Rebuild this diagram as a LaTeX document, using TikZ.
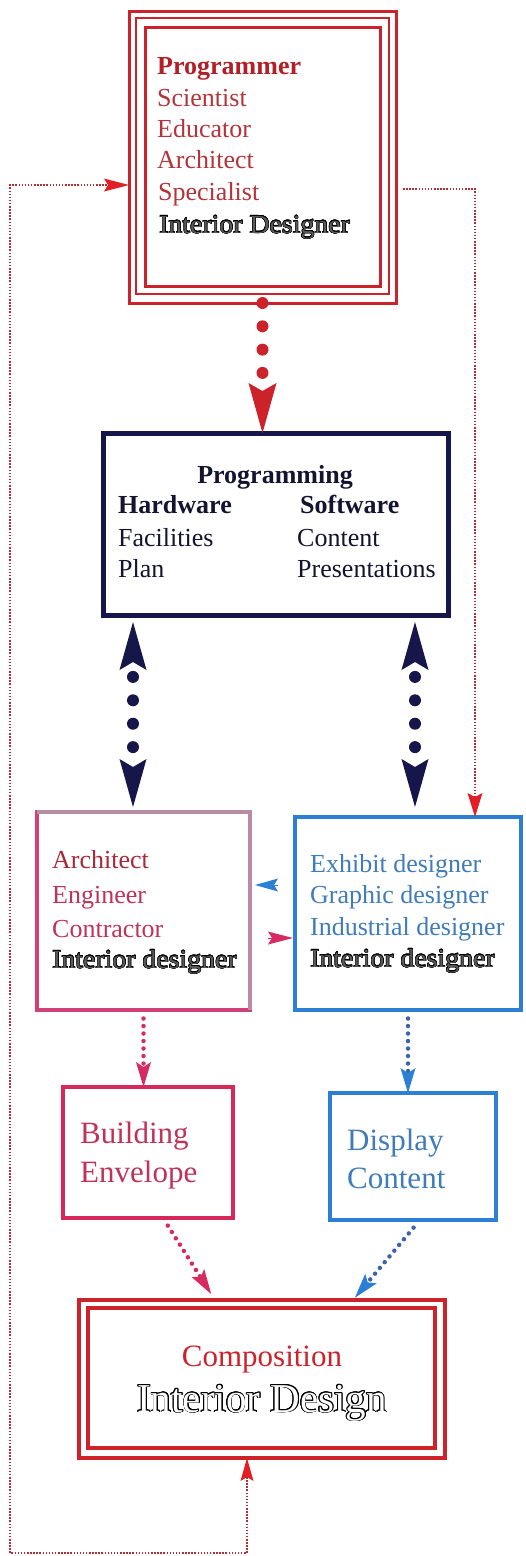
\documentclass[tikz,border=0pt]{standalone}
\usepackage{fontspec}
\setmainfont{Liberation Serif}
\newfontfamily\wideserif[FakeStretch=1.07]{Liberation Serif}
\usepackage{contour}
\usetikzlibrary{arrows.meta,calc}

\definecolor{boxred}{HTML}{CC2229}
\definecolor{progred}{HTML}{B21F26}
\definecolor{txtred}{HTML}{B4343A}
\definecolor{navy}{HTML}{16164A}
\definecolor{navytxt}{HTML}{141430}
\definecolor{pinkbox}{HTML}{D2407A}
\definecolor{mauve}{HTML}{B98CA6}
\definecolor{archred}{HTML}{A8283A}
\definecolor{pinktxt}{HTML}{BF3358}
\definecolor{crimson}{HTML}{D6285A}
\definecolor{pinkarrow}{HTML}{D82A62}
\definecolor{boxblue}{HTML}{2B7FD4}
\definecolor{bluetxt}{HTML}{3F7CB8}
\definecolor{bluedots}{HTML}{3D63A8}
\definecolor{fbred}{HTML}{B0303A}
\definecolor{tipred}{HTML}{E21F24}
\definecolor{engrave}{HTML}{5A5A5A}

\newcommand{\engraved}[1]{{\wideserif\contourlength{0.45pt}\color{engrave}\contour{black}{#1}}}
\newcommand{\hollow}[1]{{\contourlength{0.85pt}\color{white}\contour{black}{#1}}}

\tikzset{
  frame/.style={rectangle, inner sep=0pt, outer sep=0pt},
  line/.style={anchor=base west, inner sep=0pt, font=\fontsize{26}{31}\selectfont},
  cline/.style={anchor=base, inner sep=0pt},
  bigdots/.style={line width=12pt, line cap=round, dash pattern=on 0pt off 23.4pt},
  smalldots/.style={line width=4.5pt, line cap=round, dash pattern=on 0pt off 7.5pt},
  feedback/.style={fbred, line width=1.6pt, dash pattern=on 1.5pt off 1.6pt},
  navytip/.tip={Stealth[length=48pt, width=27pt, inset=8pt, line width=0pt]},
}

\begin{document}
\begin{tikzpicture}[x=1pt, y=-1pt]
  \fill[white] (0,0) rectangle (526,1556);
  \useasboundingbox (0,0) rectangle (526,1556);

  % ---- Programmer: triple-ruled frame ----
  \node[frame, draw=boxred, line width=3pt, minimum width=267pt, minimum height=292pt] (top) at (262.5,157) {};
  \draw[boxred, line width=1.8pt] ([shift={(7,7)}]top.north west) rectangle ([shift={(-7,-9)}]top.south east);
  \draw[boxred, line width=3pt] ([shift={(16,16)}]top.north west) rectangle ([shift={(-16,-17)}]top.south east);
  \node[line, text=progred, font=\fontsize{26}{31}\selectfont\bfseries] (t1) at (157,74) {Programmer};
  \node[line, text=txtred] (t2) at (157,106) {Scientist};
  \node[line, text=txtred] (t3) at (157,137) {Educator};
  \node[line, text=txtred] (t4) at (157,168) {Architect};
  \node[line, text=txtred] (t5) at (158,200) {Specialist};
  \node[line] (t6) at (159,233) {\engraved{Interior Designer}};

  % ---- Programming ----
  \node[frame, draw=navy, line width=5pt, minimum width=345pt, minimum height=182pt] (prog) at (275.5,524) {};
  \node[cline, text=navytxt, font=\fontsize{26}{31}\selectfont\bfseries] (p0) at (275,483) {Programming};
  \node[line, text=navytxt, font=\fontsize{26}{31}\selectfont\bfseries] (p1) at (118,513) {Hardware};
  \node[line, text=navytxt, font=\fontsize{26}{31}\selectfont\bfseries] (p2) at (300,513) {Software};
  \node[line, text=navytxt] (p3) at (118,546) {Facilities};
  \node[line, text=navytxt] (p4) at (118,577) {Plan};
  \node[line, text=navytxt] (p5) at (297,546) {Content};
  \node[line, text=navytxt] (p6) at (297,577) {Presentations};

  % ---- building team ----
  \node[frame, draw=pinkbox, line width=4pt, minimum width=213pt, minimum height=198pt] (arch) at (143.5,911) {};
  \draw[mauve, line width=4pt] (arch.north west) -- (arch.north east) -- (arch.south east);
  \node[line, text=archred] (a1) at (52,868) {Architect};
  \node[line, text=pinktxt] (a2) at (52,903) {Engineer};
  \node[line, text=pinktxt] (a3) at (52,937) {Contractor};
  \node[line] (a4) at (52,968) {\engraved{Interior designer}};

  % ---- display team ----
  \node[frame, draw=boxblue, line width=4pt, minimum width=226pt, minimum height=193pt] (design) at (408,913.5) {};
  \node[line, text=bluetxt] (d1) at (310,872) {Exhibit designer};
  \node[line, text=bluetxt] (d2) at (310,903) {Graphic designer};
  \node[line, text=bluetxt] (d3) at (310,935) {Industrial designer};
  \node[line] (d4) at (310,967) {\engraved{Interior designer}};

  % ---- outcomes ----
  \node[frame, draw=crimson, line width=4.5pt, minimum width=170pt, minimum height=131pt] (build) at (148,1152.5) {};
  \node[line, text=pinktxt, font=\fontsize{31}{37}\selectfont] (b1) at (80,1143) {Building};
  \node[line, text=pinktxt, font=\fontsize{31}{37}\selectfont] (b2) at (80,1182) {Envelope};

  \node[frame, draw=boxblue, line width=4.5pt, minimum width=166pt, minimum height=127pt] (disp) at (413,1156.5) {};
  \node[line, text=bluetxt, font=\fontsize{31}{37}\selectfont] (c1) at (347,1150) {Display};
  \node[line, text=bluetxt, font=\fontsize{31}{37}\selectfont] (c2) at (347,1188) {Content};

  % ---- Composition: double-ruled frame ----
  \node[frame, draw=boxred, line width=4pt, minimum width=366pt, minimum height=158pt] (comp) at (262,1379) {};
  \draw[boxred, line width=3.5pt] ([shift={(9,8)}]comp.north west) rectangle ([shift={(-10,-10)}]comp.south east);
  \node[cline, text=boxred, font=\fontsize{31}{37}\selectfont] (k1) at (262,1366) {Composition};
  \node[cline, font=\fontsize{41}{48}\selectfont] (k2) at (262,1412) {\hollow{Interior Design}};

  % ---- connectors ----
  \draw[boxred, bigdots, dash pattern=on 0pt off 23.3pt,
        -{Stealth[length=50pt, width=28pt, inset=8pt, line width=0pt]}]
    (top.south) -- (top.south |- prog.north);

  \coordinate (nl) at (133,0);
  \coordinate (nr) at (415,0);
  \draw[navy, bigdots, dash phase=8.5pt, shorten <=7pt, shorten >=5pt, navytip-navytip]
    (nl |- prog.south) -- (nl |- arch.north);
  \draw[navy, bigdots, dash phase=8.5pt, shorten <=7pt, shorten >=10pt, navytip-navytip]
    (nr |- prog.south) -- (nr |- design.north);

  % exchange between the two teams
  \draw[boxblue, line width=1pt, shorten <=17pt, shorten >=5pt,
        -{Stealth[length=23pt, width=13pt, inset=4pt, line width=0pt]}]
    (design.west |- 0,885) -- (arch.east |- 0,885);
  \draw[pinkarrow, line width=1pt, shorten <=18pt, shorten >=2pt,
        -{Stealth[length=25pt, width=13pt, inset=4pt, line width=0pt]}]
    (arch.east |- 0,938) -- (design.west |- 0,938);

  \draw[pinkarrow, smalldots, dash phase=4pt, shorten <=5pt,
        -{Stealth[length=25pt, width=15pt, inset=5pt, line width=0pt]}]
    (arch.south) -- (arch.south |- build.north);
  \draw[bluedots, smalldots, dash phase=4pt, shorten <=5pt,
        -{Stealth[boxblue, length=25pt, width=15pt, inset=5pt, line width=0pt]}]
    (design.south) -- (design.south |- disp.north);

  \draw[pinkarrow, smalldots, shorten <=9pt, shorten >=7pt,
        -{Stealth[length=25pt, width=15pt, inset=5pt, line width=0pt]}]
    ([xshift=15pt]build.south) -- ([xshift=-47pt]comp.north);
  \draw[bluedots, smalldots, shorten <=10pt, shorten >=3pt,
        -{Stealth[boxblue, length=25pt, width=15pt, inset=5pt, line width=0pt]}]
    ([xshift=7pt]disp.south) -- ([xshift=91pt]comp.north);

  % feedback loops
  \coordinate (fr) at (475,189);
  \draw[feedback, shorten <=7pt, -{Stealth[tipred, length=24pt, width=15pt, inset=4pt, line width=0pt]}]
    (top.east |- fr) -- (fr) -- (fr |- design.north);

  \coordinate (fl) at (10,185);
  \coordinate (fb) at (247,1553);
  \draw[feedback,
        {Stealth[tipred, length=23pt, width=13pt, inset=4pt, line width=0pt]}-{Stealth[tipred, length=25pt, width=13pt, inset=4pt, line width=0pt]}]
    (fb |- comp.south) -- (fb) -| (fl) -- (top.west |- fl);
\end{tikzpicture}
\end{document}
